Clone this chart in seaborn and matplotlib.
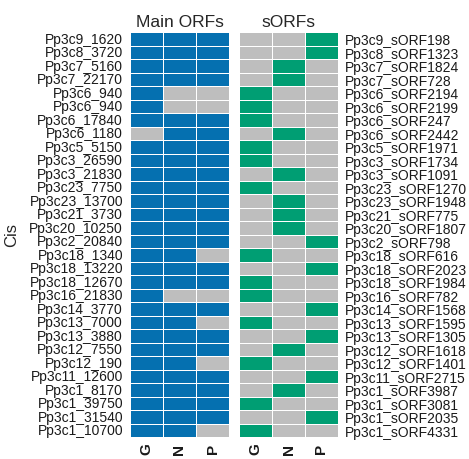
import numpy as np
import pandas as pd
import matplotlib
matplotlib.use("Agg")
import matplotlib.pyplot as plt
from matplotlib.colors import ListedColormap
import seaborn as sns

conditions = ["G", "N", "P"]

main_labels = ["Pp3c9_1620", "Pp3c8_3720", "Pp3c7_5160", "Pp3c7_22170", "Pp3c6_940",
               "Pp3c6_940", "Pp3c6_17840", "Pp3c6_1180", "Pp3c5_5150", "Pp3c3_26590",
               "Pp3c3_21830", "Pp3c23_7750", "Pp3c23_13700", "Pp3c21_3730", "Pp3c20_10250",
               "Pp3c2_20840", "Pp3c18_1340", "Pp3c18_13220", "Pp3c18_12670", "Pp3c16_21830",
               "Pp3c14_3770", "Pp3c13_7000", "Pp3c13_3880", "Pp3c12_7550", "Pp3c12_190",
               "Pp3c11_12600", "Pp3c1_8170", "Pp3c1_39750", "Pp3c1_31540", "Pp3c1_10700"]

sorf_labels = ["Pp3c9_sORF198", "Pp3c8_sORF1323", "Pp3c7_sORF1824", "Pp3c7_sORF728",
               "Pp3c6_sORF2194", "Pp3c6_sORF2199", "Pp3c6_sORF247", "Pp3c6_sORF2442",
               "Pp3c5_sORF1971", "Pp3c3_sORF1734", "Pp3c3_sORF1091", "Pp3c23_sORF1270",
               "Pp3c23_sORF1948", "Pp3c21_sORF775", "Pp3c20_sORF1807", "Pp3c2_sORF798",
               "Pp3c18_sORF616", "Pp3c18_sORF2023", "Pp3c18_sORF1984", "Pp3c16_sORF782",
               "Pp3c14_sORF1568", "Pp3c13_sORF1595", "Pp3c13_sORF1305", "Pp3c12_sORF1618",
               "Pp3c12_sORF1401", "Pp3c11_sORF2715", "Pp3c1_sORF3987", "Pp3c1_sORF3081",
               "Pp3c1_sORF2035", "Pp3c1_sORF4331"]

main_G = [1,1,1,1,1,1,1,0,1,1,1,1,1,1,1,1,1,1,1,1,1,1,1,1,1,1,1,1,1,1]
main_N = [1,1,1,1,0,0,1,1,1,1,1,1,1,1,1,1,1,1,1,0,1,1,1,1,1,1,1,1,1,1]
main_P = [1,1,1,1,0,0,1,1,1,1,1,1,1,1,1,1,0,1,1,0,1,0,1,1,0,1,1,1,1,0]

sorf_G = [0,0,0,0,1,1,1,0,1,1,0,1,0,0,0,0,1,0,1,1,0,1,0,0,1,0,0,1,0,1]
sorf_N = [0,0,1,1,0,0,0,1,0,0,1,0,1,1,1,0,0,0,0,0,0,0,0,1,0,0,1,0,0,0]
sorf_P = [1,1,0,0,0,0,0,0,0,0,0,0,0,0,0,1,0,1,0,0,1,0,1,0,0,1,0,0,1,0]

main_df = pd.DataFrame({"G": main_G, "N": main_N, "P": main_P})
sorf_df = pd.DataFrame({"G": sorf_G, "N": sorf_N, "P": sorf_P})

GRAY = "#BEBEBE"
BLUE = "#0570B0"
GREEN = "#009E73"

sns.set_style("white")
plt.rcParams["font.family"] = ["Liberation Sans", "DejaVu Sans"]

W, H = 469, 460
fig = plt.figure(figsize=(W / 100, H / 100), dpi=100)

top, bot = 33, 438
ax1 = fig.add_axes([130 / W, 1 - bot / H, 99 / W, (bot - top) / H])
ax2 = fig.add_axes([239 / W, 1 - bot / H, 99 / W, (bot - top) / H])

sns.heatmap(main_df, ax=ax1, cmap=ListedColormap([GRAY, BLUE]), vmin=0, vmax=1,
            cbar=False, linewidths=0.6, linecolor="white",
            xticklabels=conditions, yticklabels=main_labels)
sns.heatmap(sorf_df, ax=ax2, cmap=ListedColormap([GRAY, GREEN]), vmin=0, vmax=1,
            cbar=False, linewidths=0.6, linecolor="white",
            xticklabels=conditions, yticklabels=sorf_labels)

for ax in (ax1, ax2):
    ax.tick_params(axis="both", length=0, labelsize=10, colors="#1a1a1a")
    ax.tick_params(axis="x", pad=4)
    plt.setp(ax.get_xticklabels(), rotation=90, va="top", ha="center",
             fontsize=11, fontweight="bold")
    ax.set_xlabel("")
    ax.set_ylabel("")

ax1.tick_params(axis="y", pad=5)
plt.setp(ax1.get_yticklabels(), rotation=0)
ax2.yaxis.tick_right()
ax2.tick_params(axis="y", pad=5, length=0)
plt.setp(ax2.get_yticklabels(), rotation=0)

ax1.set_title("Main ORFs", fontsize=12.5, pad=4)
ax2.set_title("sORFs", fontsize=12.5, pad=4)

fig.text(12 / W, 1 - 235 / H, "Cis", rotation=90, ha="center", va="center", fontsize=12)

fig.savefig("out.png", dpi=100)
